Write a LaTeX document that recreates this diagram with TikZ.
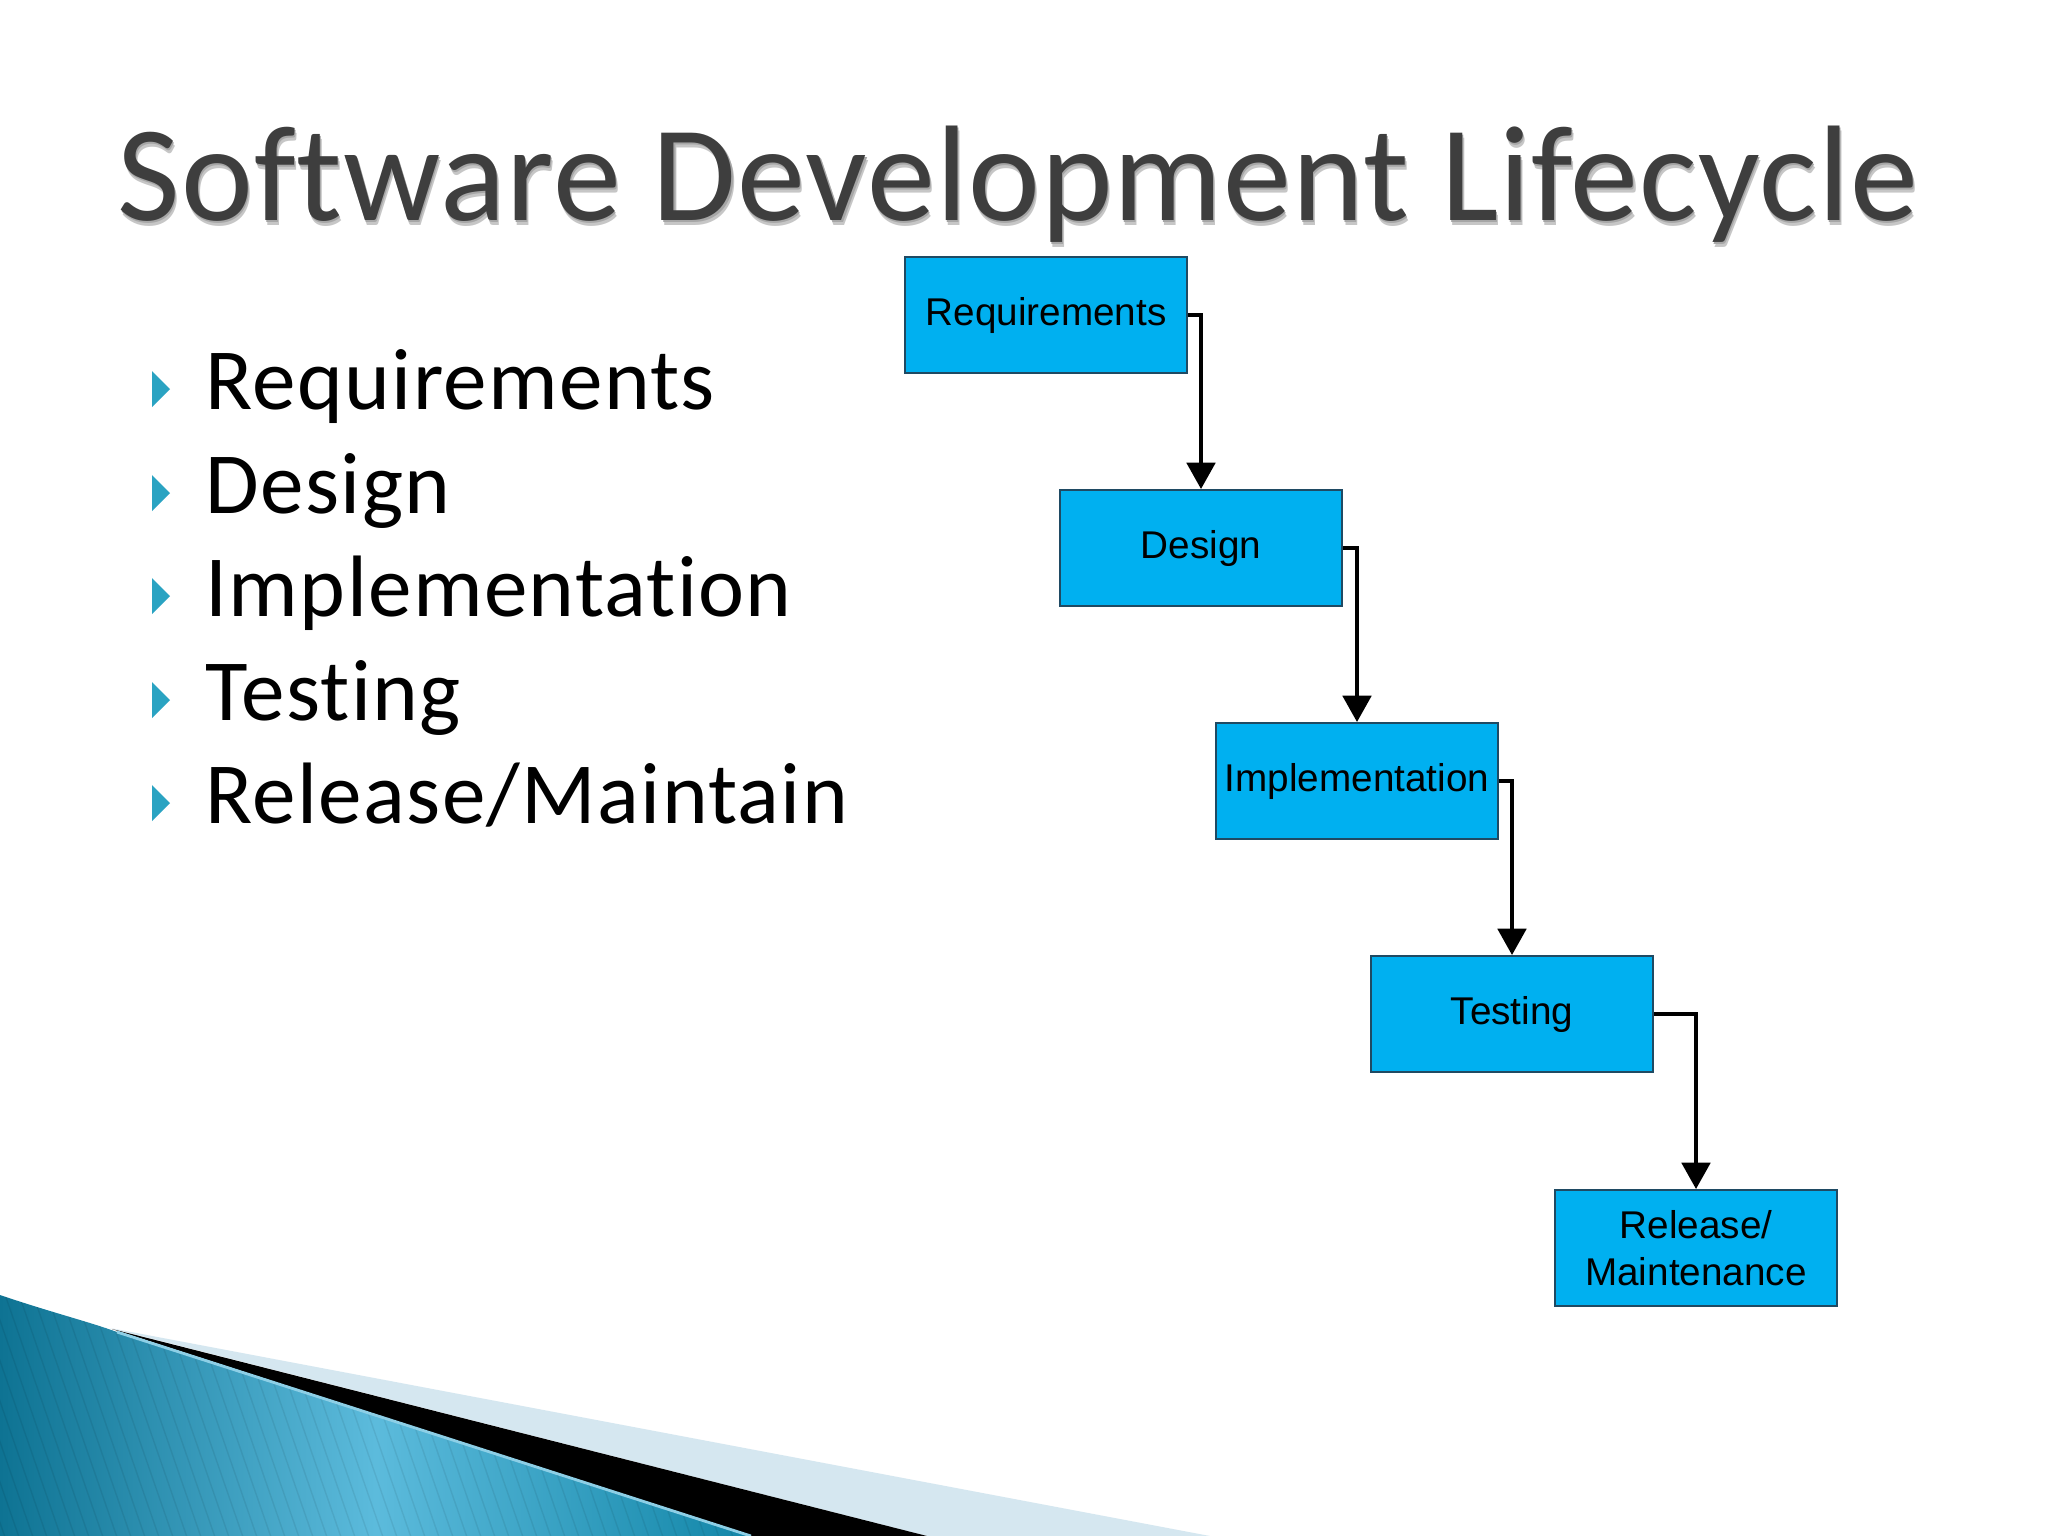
\documentclass[tikz,border=0pt]{standalone}
\usepackage{fontspec}
\usetikzlibrary{arrows.meta}
\newfontfamily\titlefont[Ligatures=CommonOff, LetterSpace=0.8]{Carlito}
\newfontfamily\bulletfont[Ligatures=CommonOff, LetterSpace=1.5]{Carlito}
\newfontfamily\boxfont{Liberation Sans}
\definecolor{boxblue}{HTML}{00B0F0}
\definecolor{boxedge}{HTML}{1F4A63}
\definecolor{bulletc}{HTML}{2AA3C2}
\definecolor{titlec}{HTML}{3E3E3E}
\definecolor{tealdark}{HTML}{0E7393}
\definecolor{teallight}{HTML}{5CBBDC}
\definecolor{tealright}{HTML}{1286A8}
\definecolor{palebl}{HTML}{D5E7F0}
\newcommand{\shadowtext}[1]{\rlap{\raisebox{-1.6pt}{\hspace{0.6pt}\textcolor{gray!45}{#1}}}\rlap{\raisebox{-0.8pt}{\hspace{0.3pt}\textcolor{gray!70}{#1}}}\textcolor{titlec}{#1}}
\tikzset{
  stagebox/.style={rectangle, fill=boxblue, draw=boxedge, line width=0.5pt,
    minimum width=2.82cm, minimum height=1.16cm, inner sep=0pt, align=center,
    font=\boxfont\fontsize{11}{13.4}\selectfont},
  flowconn/.style={line width=1.3pt, -{Triangle[length=7.5pt,width=8pt]}},
  bullettext/.style={anchor=base west, inner sep=0pt,
    font=\bulletfont\fontsize{24.8}{30}\selectfont},
  bullettri/.style={fill=bulletc}
}
\begin{document}
\begin{tikzpicture}[x=0.01cm, y=-0.01cm]
\useasboundingbox (0,0) rectangle (2048,1536);
\fill[white] (0,0) rectangle (2048,1536);

% bottom-left decoration
\fill[palebl] (110,1328) -- (1210,1536) -- (927,1536) -- cycle;
\fill[black] (112,1329) -- (927,1536) -- (751,1536) -- cycle;
\shade[left color=tealdark, right color=tealright, middle color=teallight]
  (0,1295) .. controls (50,1312) and (90,1322) .. (117,1332) -- (751,1536) -- (0,1536) -- cycle;
\begin{scope}
  \clip (0,1295) .. controls (50,1312) and (90,1322) .. (117,1332) -- (751,1536) -- (0,1536) -- cycle;
  \foreach \k in {-40,...,60} {
    \draw[black, opacity=0.07, line width=0.4pt] (\k*14,1280) -- ++(90,260);
  }
\end{scope}
\draw[color=teallight!70!white, line width=0.8pt] (117,1332) -- (751,1536);

% title
\node[anchor=base, inner sep=0pt,
  font=\titlefont\fontsize{38.7}{46}\selectfont] (title) at (1018,220) {\shadowtext{Software Development Lifecycle}};

% bullets
\foreach \t/\b [count=\i] in {Requirements/409, Design/513, Implementation/616, Testing/720, {Release/Maintain}/823} {
  \fill[bullettri] (152,\b-38) -- (170,\b-20) -- (152,\b-2) -- cycle;
  \node[bullettext] (bl\i) at (205,\b) {\t};
}

% flow boxes
\node[stagebox] (req) at (1046,315) {Requirements};
\node[stagebox] (des) at (1201,548) {Design};
\node[stagebox] (imp) at (1357,781) {Implementation};
\node[stagebox] (tes) at (1512,1014) {Testing};
\node[stagebox] (rel) at (1696,1248) {Release/\\Maintenance};

\draw[flowconn] (req.east) -| (des.north);
\draw[flowconn] (des.east) -| (imp.north);
\draw[flowconn] (imp.east) -| (tes.north);
\draw[flowconn] (tes.east) -| (rel.north);
\end{tikzpicture}
\end{document}
